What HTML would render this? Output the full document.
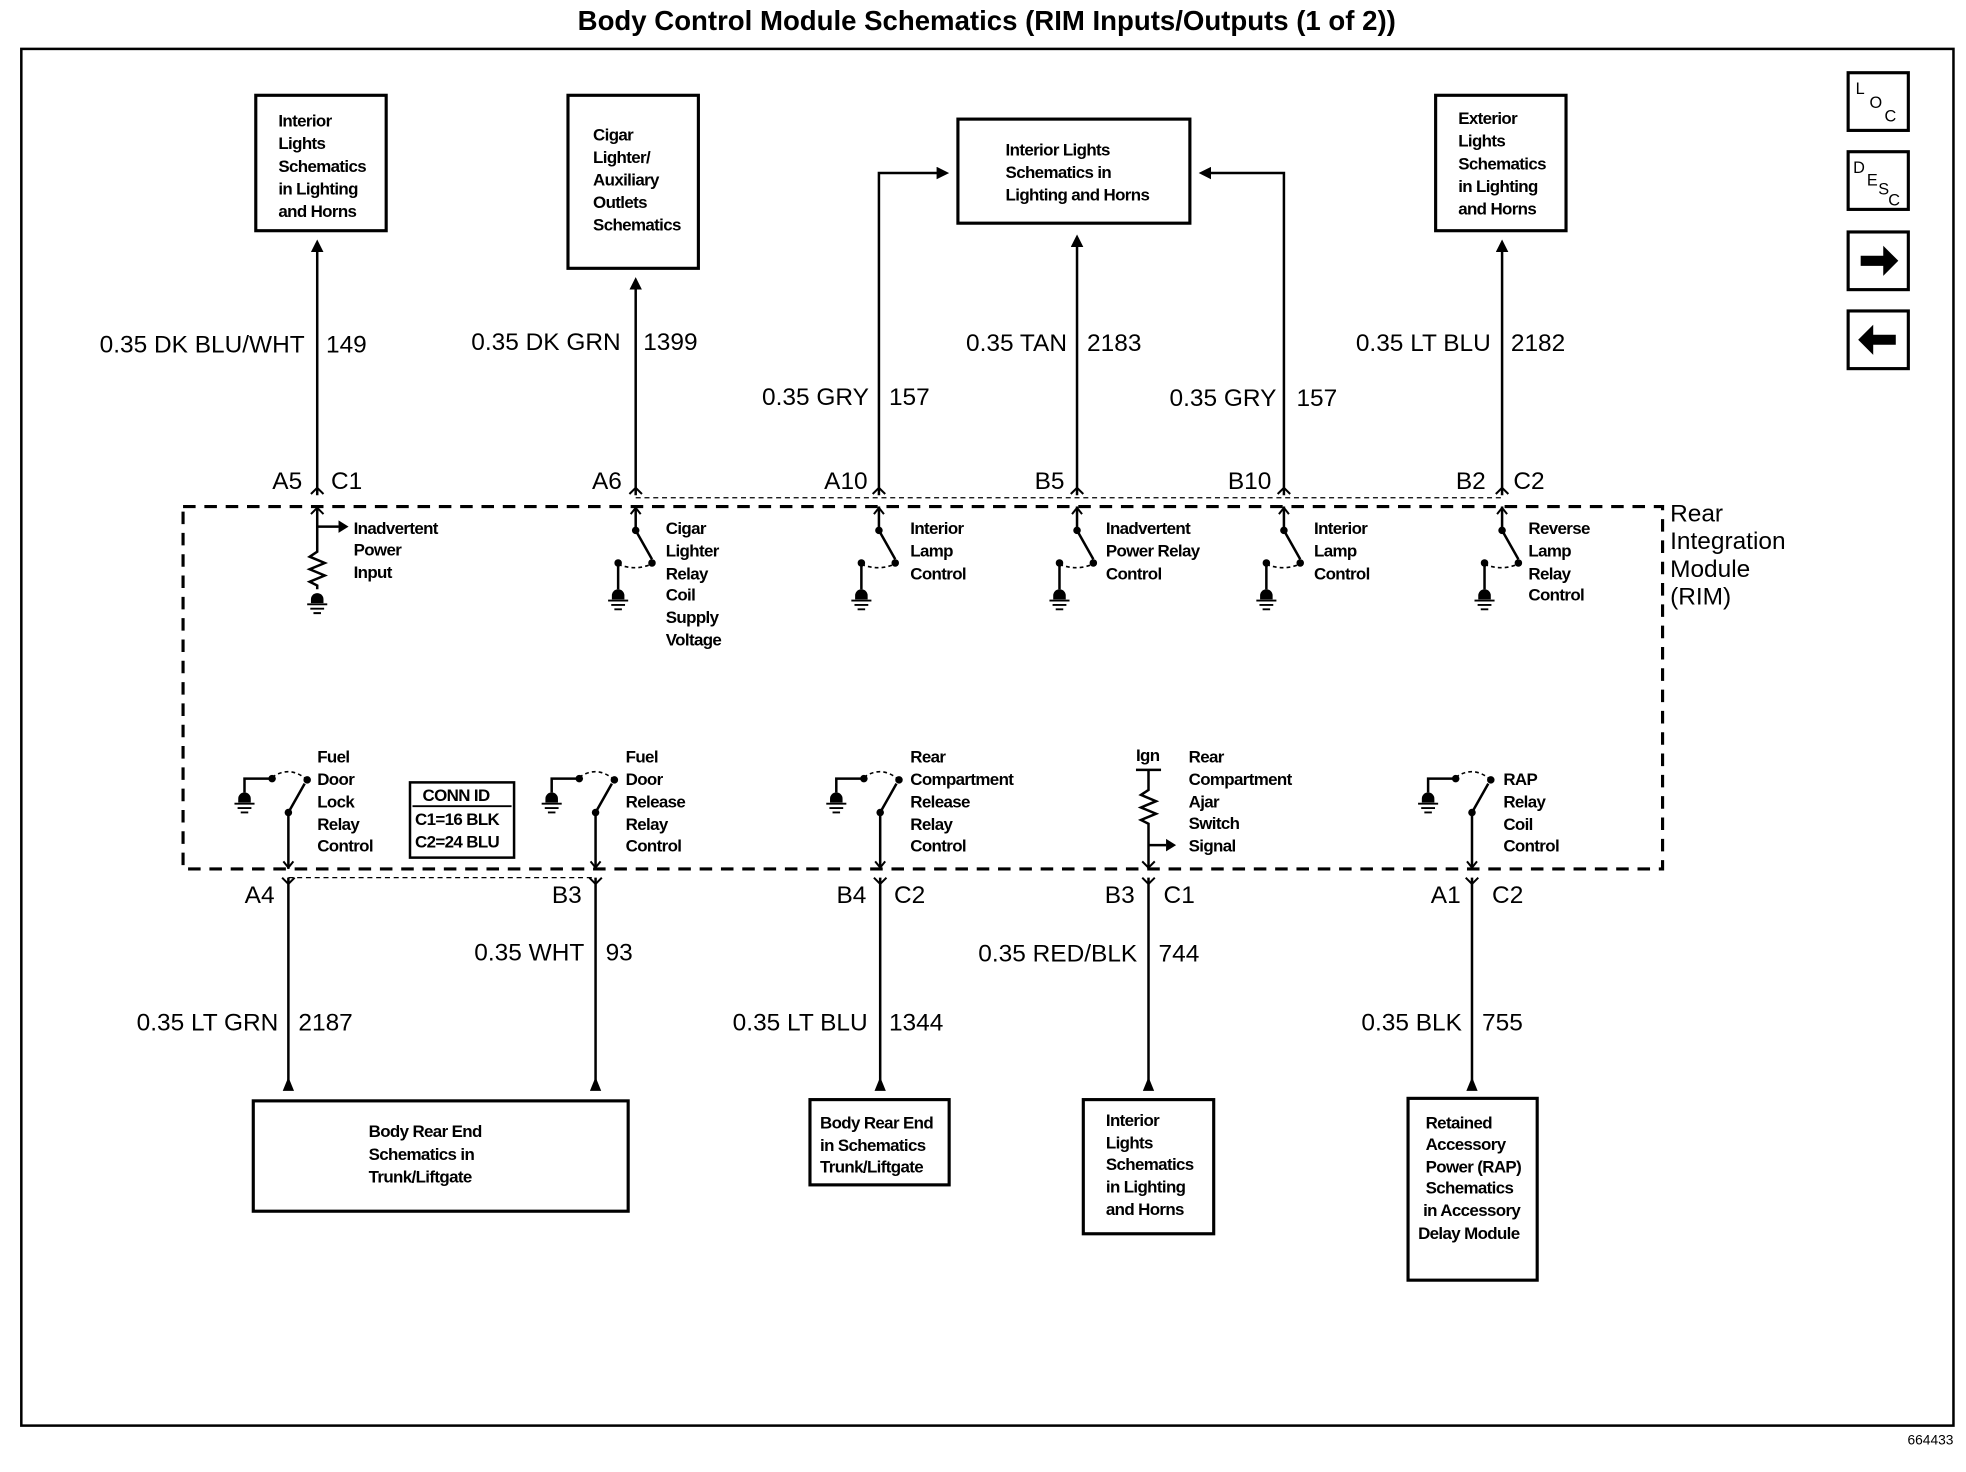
<!DOCTYPE html>
<html><head><meta charset="utf-8"><style>
html,body{margin:0;padding:0;background:#fff}
svg{display:block}
text{font-family:"Liberation Sans",sans-serif;fill:#000}
.s{font-size:13.5px;letter-spacing:-0.5px;font-weight:bold}
.l{font-size:19.5px}
.e{text-anchor:end}
</style></head><body>
<svg width="1966" height="1472" viewBox="0 0 1568 1174" preserveAspectRatio="none" xmlns="http://www.w3.org/2000/svg">
<defs>
<marker id="au" markerWidth="10" markerHeight="10" refX="5" refY="5" orient="auto" markerUnits="userSpaceOnUse" viewBox="0 0 10 10"><path d="M0,0 L10,5 L0,10 z"/></marker>
<g id="gnd"><path d="M-5,0 a5,5 0 0 1 10,0 v3 h-10z"/><path d="M-8,4 h16 M-5.5,7.5 h11 M-3,11 h6" stroke="#000" stroke-width="1.5" fill="none"/></g>
<g id="tsw" fill="none" stroke="#000" stroke-width="2">
<path d="M0,404 V423 L13,446"/><path d="M-4,410 l4,-5 l4,5" stroke-width="1.6"/>
<path d="M-14,449 V470"/><path d="M-14,450 Q0,456 15,449" stroke-width="1.3" stroke-dasharray="3,2.5"/>
</g>
<g id="bsw" fill="none" stroke="#000" stroke-width="2">
<path d="M0,693 V648 L13,625"/><path d="M-4,687 l4,5 l4,-5" stroke-width="1.6"/>
<path d="M-13,621 H-35 V632"/><path d="M-13,620 Q1,610 15,622" stroke-width="1.3" stroke-dasharray="3,2.5"/>
</g>
</defs>
<text x="787" y="24" font-size="22" font-weight="bold" text-anchor="middle">Body Control Module Schematics (RIM Inputs/Outputs (1 of 2))</text>
<rect x="17" y="39" width="1541" height="1098" fill="none" stroke="#000" stroke-width="2"/>
<g fill="none" stroke="#000" stroke-width="2.5">
<rect x="1474" y="58" width="48" height="46"/><rect x="1474" y="121" width="48" height="46"/>
<rect x="1474" y="185" width="48" height="46"/><rect x="1474" y="248" width="48" height="46"/>
</g>
<text x="1480" y="75" font-size="13">L</text><text x="1491" y="86" font-size="13">O</text><text x="1503" y="97" font-size="13">C</text>
<text x="1478" y="138" font-size="13">D</text><text x="1489" y="148" font-size="13">E</text><text x="1498" y="155" font-size="13">S</text><text x="1506" y="164" font-size="13">C</text>
<path d="M1484,204 h18 v-8 l12,12 l-12,12 v-8 h-18z"/>
<path d="M1512,267 h-18 v-8 l-12,12 l12,12 v-8 h18z"/>
<g fill="none" stroke="#000" stroke-width="2.5">
<rect x="204" y="76" width="104" height="108"/><rect x="453" y="76" width="104" height="138"/>
<rect x="764" y="95" width="185" height="83"/><rect x="1145" y="76" width="104" height="108"/>
<rect x="202" y="878" width="299" height="88"/><rect x="646" y="877" width="111" height="68"/>
<rect x="864" y="877" width="104" height="107"/><rect x="1123" y="876" width="103" height="145"/>
<rect x="327" y="624" width="83" height="60" stroke-width="2"/>
</g>
<line x1="329" y1="643" x2="408" y2="643" stroke="#000" stroke-width="1.5"/>
<g class="s">
<text x="222" y="101">Interior</text><text x="222" y="119">Lights</text><text x="222" y="137">Schematics</text><text x="222" y="155">in Lighting</text><text x="222" y="173">and Horns</text>
<text x="473" y="112">Cigar</text><text x="473" y="130">Lighter/</text><text x="473" y="148">Auxiliary</text><text x="473" y="166">Outlets</text><text x="473" y="184">Schematics</text>
<text x="802" y="124">Interior Lights</text><text x="802" y="142">Schematics in</text><text x="802" y="160">Lighting  and Horns</text>
<text x="1163" y="99">Exterior</text><text x="1163" y="117">Lights</text><text x="1163" y="135">Schematics</text><text x="1163" y="153">in Lighting</text><text x="1163" y="171">and Horns</text>
<text x="294" y="907">Body Rear End</text><text x="294" y="925">Schematics in</text><text x="294" y="943">Trunk/Liftgate</text>
<text x="654" y="900">Body Rear End</text><text x="654" y="918">in Schematics</text><text x="654" y="935">Trunk/Liftgate</text>
<text x="882" y="898">Interior</text><text x="882" y="916">Lights</text><text x="882" y="933">Schematics</text><text x="882" y="951">in Lighting</text><text x="882" y="969">and Horns</text>
<text x="1137" y="900">Retained</text><text x="1137" y="917">Accessory</text><text x="1137" y="935">Power (RAP)</text><text x="1137" y="952">Schematics</text><text x="1135" y="970">in Accessory</text><text x="1131" y="988">Delay Module</text>
<text x="337" y="639">CONN ID</text><text x="331" y="658">C1=16 BLK</text><text x="331" y="676">C2=24 BLU</text>
<text x="282" y="426">Inadvertent</text><text x="282" y="443">Power</text><text x="282" y="461">Input</text>
<text x="531" y="426">Cigar</text><text x="531" y="444">Lighter</text><text x="531" y="462">Relay</text><text x="531" y="479">Coil</text><text x="531" y="497">Supply</text><text x="531" y="515">Voltage</text>
<text x="726" y="426">Interior</text><text x="726" y="444">Lamp</text><text x="726" y="462">Control</text>
<text x="882" y="426">Inadvertent</text><text x="882" y="444">Power Relay</text><text x="882" y="462">Control</text>
<text x="1048" y="426">Interior</text><text x="1048" y="444">Lamp</text><text x="1048" y="462">Control</text>
<text x="1219" y="426">Reverse</text><text x="1219" y="444">Lamp</text><text x="1219" y="462">Relay</text><text x="1219" y="479">Control</text>
<text x="253" y="608">Fuel</text><text x="253" y="626">Door</text><text x="253" y="644">Lock</text><text x="253" y="662">Relay</text><text x="253" y="679">Control</text>
<text x="499" y="608">Fuel</text><text x="499" y="626">Door</text><text x="499" y="644">Release</text><text x="499" y="662">Relay</text><text x="499" y="679">Control</text>
<text x="726" y="608">Rear</text><text x="726" y="626">Compartment</text><text x="726" y="644">Release</text><text x="726" y="662">Relay</text><text x="726" y="679">Control</text>
<text x="906" y="607">Ign</text>
<text x="948" y="608">Rear</text><text x="948" y="626">Compartment</text><text x="948" y="644">Ajar</text><text x="948" y="661">Switch</text><text x="948" y="679">Signal</text>
<text x="1199" y="626">RAP</text><text x="1199" y="644">Relay</text><text x="1199" y="662">Coil</text><text x="1199" y="679">Control</text>
</g>
<text x="1558" y="1152" font-size="11" text-anchor="end">664433</text>
<rect x="146" y="404" width="1180" height="289" fill="none" stroke="#000" stroke-width="2.5" stroke-dasharray="10,7"/>
<g style="font-size:19.5px"><text x="1332" y="416">Rear</text><text x="1332" y="438">Integration</text><text x="1332" y="460">Module</text><text x="1332" y="482">(RIM)</text></g>
<line x1="507" y1="397" x2="1198" y2="397" stroke="#000" stroke-width="1" stroke-dasharray="4,3"/>
<line x1="230" y1="700" x2="475" y2="700" stroke="#000" stroke-width="1" stroke-dasharray="4,3"/>
<g fill="none" stroke="#000" stroke-width="2">
<path d="M253,395 V196" marker-end="url(#au)"/>
<path d="M507,395 V226" marker-end="url(#au)"/>
<path d="M701,395 V138 H752" marker-end="url(#au)"/>
<path d="M859,395 V192" marker-end="url(#au)"/>
<path d="M1024,395 V138 H961" marker-end="url(#au)"/>
<path d="M1198,395 V196" marker-end="url(#au)"/>
<path d="M230,700 V866 M475,700 V866 M702,700 V866 M916,700 V866 M1174,700 V866"/>
</g>
<g fill="#000">
<path d="M225.5,870 l4.5,-11 l4.5,11z M470.5,870 l4.5,-11 l4.5,11z M697.5,870 l4.5,-11 l4.5,11z M911.5,870 l4.5,-11 l4.5,11z M1169.5,870 l4.5,-11 l4.5,11z"/>
</g>
<g fill="none" stroke="#000" stroke-width="1.6">
<path d="M248,394 l5,-5 l5,5 M502,394 l5,-5 l5,5 M696,394 l5,-5 l5,5 M854,394 l5,-5 l5,5 M1019,394 l5,-5 l5,5 M1193,394 l5,-5 l5,5"/>
<path d="M225,700 l5,5 l5,-5 M470,700 l5,5 l5,-5 M697,700 l5,5 l5,-5 M911,700 l5,5 l5,-5 M1169,700 l5,5 l5,-5"/>
<path d="M253,404 V440 l-6,4 l12,5 l-12,5 l12,5 l-12,5 l6,3 V470" stroke-width="2"/>
<path d="M248,410 l5,-5 l5,5"/>
<path d="M253,420 H270" stroke-width="2"/>
<path d="M906,614 H926 M916,614 V630 l-6,4 l12,5 l-12,5 l12,5 l-12,5 l6,3 V693 M916,674 H930" stroke-width="2"/>
<path d="M911,687 l5,5 l5,-5"/>
</g>
<g fill="#000">
<path d="M270,415 l8,5 l-8,5z"/><path d="M930,669 l8,5 l-8,5z"/>
</g>
<use href="#gnd" x="253" y="478"/>
<g>
<use href="#tsw" x="507"/><use href="#tsw" x="701"/><use href="#tsw" x="859"/><use href="#tsw" x="1024"/><use href="#tsw" x="1198"/>
<use href="#bsw" x="230"/><use href="#bsw" x="475"/><use href="#bsw" x="702"/><use href="#bsw" x="1174"/>
</g>
<g fill="#000">
<circle cx="507" cy="423" r="3"/><circle cx="520" cy="449" r="3"/><circle cx="493" cy="449" r="3"/>
<circle cx="701" cy="423" r="3"/><circle cx="714" cy="449" r="3"/><circle cx="687" cy="449" r="3"/>
<circle cx="859" cy="423" r="3"/><circle cx="872" cy="449" r="3"/><circle cx="845" cy="449" r="3"/>
<circle cx="1024" cy="423" r="3"/><circle cx="1037" cy="449" r="3"/><circle cx="1010" cy="449" r="3"/>
<circle cx="1198" cy="423" r="3"/><circle cx="1211" cy="449" r="3"/><circle cx="1184" cy="449" r="3"/>
<circle cx="230" cy="648" r="3"/><circle cx="245" cy="622" r="3"/><circle cx="217" cy="621" r="3"/>
<circle cx="475" cy="648" r="3"/><circle cx="490" cy="622" r="3"/><circle cx="462" cy="621" r="3"/>
<circle cx="702" cy="648" r="3"/><circle cx="717" cy="622" r="3"/><circle cx="689" cy="621" r="3"/>
<circle cx="1174" cy="648" r="3"/><circle cx="1189" cy="622" r="3"/><circle cx="1161" cy="621" r="3"/>
</g>
<use href="#gnd" x="493" y="475"/><use href="#gnd" x="687" y="475"/><use href="#gnd" x="845" y="475"/><use href="#gnd" x="1010" y="475"/><use href="#gnd" x="1184" y="475"/>
<use href="#gnd" x="195" y="637"/><use href="#gnd" x="440" y="637"/><use href="#gnd" x="667" y="637"/><use href="#gnd" x="1139" y="637"/>
<g class="l">
<text x="243" y="281" class="e">0.35 DK BLU/WHT</text><text x="260" y="281">149</text>
<text x="495" y="279" class="e">0.35 DK GRN</text><text x="513" y="279">1399</text>
<text x="693" y="323" class="e">0.35 GRY</text><text x="709" y="323">157</text>
<text x="851" y="280" class="e">0.35 TAN</text><text x="867" y="280">2183</text>
<text x="1018" y="324" class="e">0.35 GRY</text><text x="1034" y="324">157</text>
<text x="1189" y="280" class="e">0.35 LT BLU</text><text x="1205" y="280">2182</text>
<text x="241" y="390" class="e">A5</text><text x="264" y="390">C1</text>
<text x="496" y="390" class="e">A6</text>
<text x="692" y="390" class="e">A10</text>
<text x="849" y="390" class="e">B5</text>
<text x="1014" y="390" class="e">B10</text>
<text x="1185" y="390" class="e">B2</text><text x="1207" y="390">C2</text>
<text x="219" y="720" class="e">A4</text>
<text x="464" y="720" class="e">B3</text>
<text x="691" y="720" class="e">B4</text><text x="713" y="720">C2</text>
<text x="905" y="720" class="e">B3</text><text x="928" y="720">C1</text>
<text x="1165" y="720" class="e">A1</text><text x="1190" y="720">C2</text>
<text x="222" y="822" class="e">0.35 LT GRN</text><text x="238" y="822">2187</text>
<text x="466" y="766" class="e">0.35 WHT</text><text x="483" y="766">93</text>
<text x="692" y="822" class="e">0.35 LT BLU</text><text x="709" y="822">1344</text>
<text x="907" y="767" class="e">0.35 RED/BLK</text><text x="924" y="767">744</text>
<text x="1166" y="822" class="e">0.35 BLK</text><text x="1182" y="822">755</text>
</g>
</svg>
</body></html>
